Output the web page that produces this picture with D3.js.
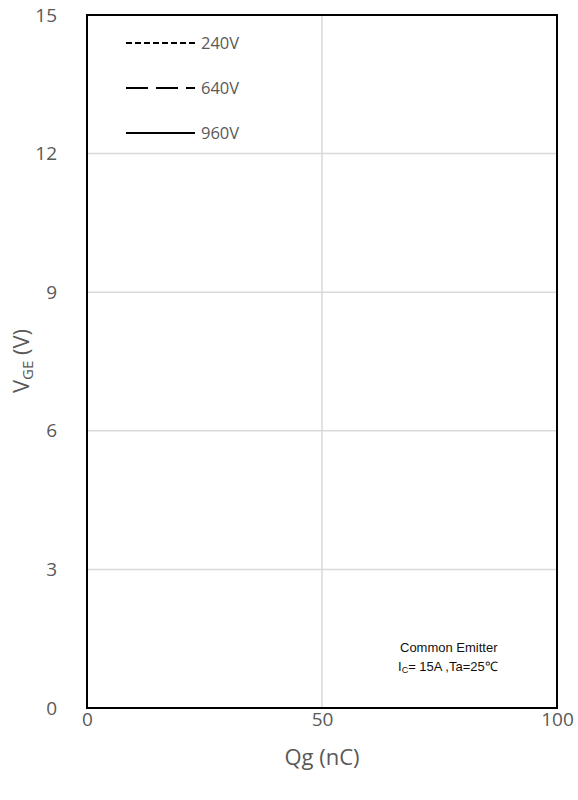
<!DOCTYPE html>
<html><head><meta charset="utf-8">
<script src="https://cdn.jsdelivr.net/npm/d3@7"></script>
<style>body{margin:0;background:#fff}</style>
</head><body>
<svg id="c" width="578" height="800"></svg>
<script>
const seriesNames = ["240V", "640V", "960V"];
const seriesDash = ["6,3", "22,8", null];
// No curves are drawn in the reference: series values are empty
const series240 = [];
const series640 = [];
const series960 = [];
const xTicks = [0, 50, 100];
const yTicks = [0, 3, 6, 9, 12, 15];

const svg = d3.select("#c");
const m = {l: 87, r: 557, t: 15, b: 708};
const x = d3.scaleLinear().domain([0, 100]).range([m.l, m.r]);
const y = d3.scaleLinear().domain([0, 15]).range([m.b, m.t]);
const font = "'Open Sans', sans-serif";
const grey = "#595959";

// gridlines
svg.append("g").selectAll("line").data(yTicks.slice(1, -1)).join("line")
  .attr("x1", m.l).attr("x2", m.r).attr("y1", d => y(d)).attr("y2", d => y(d))
  .attr("stroke", "#d9d9d9").attr("stroke-width", 1.5);
svg.append("g").selectAll("line").data(xTicks.slice(1, -1)).join("line")
  .attr("y1", m.t).attr("y2", m.b).attr("x1", d => x(d)).attr("x2", d => x(d))
  .attr("stroke", "#d9d9d9").attr("stroke-width", 1.5);

// axes labels via d3 axes
const ya = svg.append("g").attr("transform", `translate(${m.l},0)`)
  .call(d3.axisLeft(y).tickValues(yTicks).tickSize(0).tickPadding(30));
ya.select(".domain").remove();
ya.selectAll("text").attr("font-family", font).attr("font-size", 19).attr("fill", grey);
const xa = svg.append("g").attr("transform", `translate(0,${m.b})`)
  .call(d3.axisBottom(x).tickValues(xTicks).tickSize(0).tickPadding(0));
xa.select(".domain").remove();
xa.selectAll("text").attr("font-family", font).attr("font-size", 19).attr("fill", grey).attr("dy", "0").attr("y", 18);

// data lines (empty)
const line = d3.line().x(d => x(d[0])).y(d => y(d[1]));
[series240, series640, series960].forEach((s, i) => {
  if (s.length) svg.append("path").attr("d", line(s)).attr("fill", "none")
    .attr("stroke", "#000").attr("stroke-width", 2).attr("stroke-dasharray", seriesDash[i]);
});

// frame
svg.append("rect").attr("x", m.l).attr("y", m.t).attr("width", m.r - m.l).attr("height", m.b - m.t)
  .attr("fill", "none").attr("stroke", "#000").attr("stroke-width", 2);

// legend
const lg = svg.append("g");
seriesNames.forEach((n, i) => {
  const yy = 43 + i * 45;
  lg.append("line").attr("x1", 126).attr("x2", 195).attr("y1", yy).attr("y2", yy)
    .attr("stroke", "#000").attr("stroke-width", 2).attr("stroke-dasharray", seriesDash[i]);
  lg.append("text").attr("x", 201).attr("y", yy + 6).text(n)
    .attr("font-family", font).attr("font-size", 16.5).attr("fill", grey);
});

// axis titles
svg.append("text").attr("x", x(50)).attr("y", 765).attr("text-anchor", "middle")
  .attr("font-family", font).attr("font-size", 22).attr("fill", grey).text("Qg (nC)");
const yt = svg.append("text").attr("transform", "translate(29,361) rotate(-90)")
  .attr("text-anchor", "middle").attr("font-family", font).attr("font-size", 22).attr("fill", grey);
yt.append("tspan").text("V");
yt.append("tspan").attr("font-size", 15).attr("dy", 4).text("GE");
yt.append("tspan").attr("dy", -4).text(" (V)");

// annotation
svg.append("text").attr("x", 400).attr("y", 652).attr("font-family", "'Liberation Sans', Arial, sans-serif")
  .attr("font-size", 13).attr("fill", "#111").text("Common Emitter");
const an = svg.append("text").attr("x", 398).attr("y", 671).attr("font-family", "'Liberation Sans', Arial, sans-serif")
  .attr("font-size", 13).attr("fill", "#111");
an.append("tspan").text("I");
an.append("tspan").attr("font-size", 9).attr("dy", 2).text("C");
an.append("tspan").attr("dy", -2).text("= 15A ,Ta=25℃");
</script>
</body></html>
